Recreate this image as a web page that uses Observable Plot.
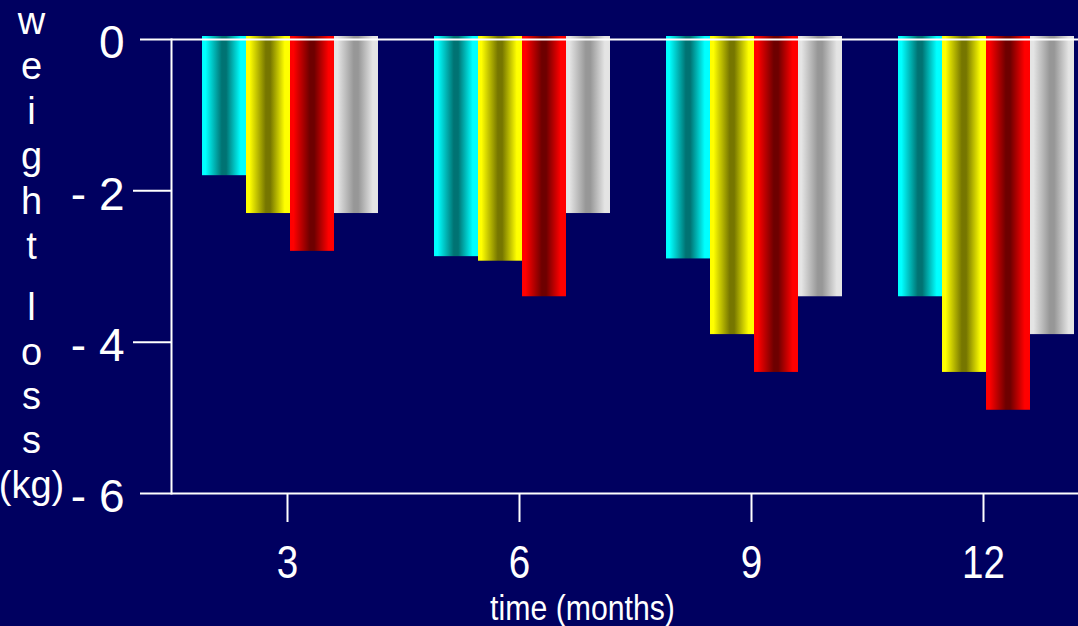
<!DOCTYPE html>
<html>
<head>
<meta charset="utf-8">
<script src="https://cdn.jsdelivr.net/npm/d3@7"></script>
<script src="https://cdn.jsdelivr.net/npm/@observablehq/plot@0.6"></script>
<style>
  html, body { margin: 0; padding: 0; background: #000060; overflow: hidden; }
  #chart svg { display: block; }
</style>
</head>
<body>
<div id="chart"></div>
<script>
// Weight loss (kg) by follow-up time, four groups per time point
const months = [3, 6, 9, 12];
const groups = ["A", "B", "C", "D"];
const groupA = [-1.8, -2.87, -2.9, -3.4];
const groupB = [-2.3, -2.93, -3.9, -4.4];
const groupC = [-2.8, -3.4, -4.4, -4.9];
const groupD = [-2.3, -2.3, -3.4, -3.9];

const yTickValues = [0, -2, -4, -6];
const yTickLabels = ["0", "- 2", "- 4", "- 6"];

// Cylinder-like shading for each group: edge colour and core colour
const edgeColors = ["#00ffff", "#ffff00", "#ff0000", "#e4e4e4"];
const coreColors = ["#007373", "#767600", "#6e0000", "#979797"];

const groupValues = [groupA, groupB, groupC, groupD];
const rows = months.flatMap((m, i) =>
  groups.map((g, j) => ({month: m, group: g, value: groupValues[j][i]}))
);
const gradientIds = groups.map((g) => `shade-${g}`);

const tickLabel = (d) => yTickLabels[yTickValues.indexOf(d)];

const chart = Plot.plot({
  width: 1078,
  height: 626,
  marginLeft: 171,
  marginRight: -21,
  marginTop: 39,
  marginBottom: 133,
  style: {
    background: "#000060",
    color: "white",
    fontFamily: "'Liberation Sans', Arial, sans-serif"
  },
  fx: {domain: months, paddingInner: 0, paddingOuter: 0, axis: null},
  x: {domain: groups, paddingInner: 0, paddingOuter: 0.636, align: 0.55, axis: null},
  y: {domain: [-6, 0], axis: null},
  color: {domain: groups, range: gradientIds.map((id) => `url(#${id})`)},
  marks: [
    Plot.barY(rows, {fx: "month", x: "group", y: "value", fill: "group", insetTop: -3}),
    Plot.ruleY([0, -6], {stroke: "white", strokeWidth: 2}),
    Plot.frame({anchor: "left", facetAnchor: "left", stroke: "white", strokeWidth: 2}),
    // tick lines: inner ticks longer than the end ticks
    Plot.axisY({ticks: [-2, -4], tickSize: 38, tickFormat: () => "", strokeWidth: 2, label: null}),
    Plot.axisY({ticks: [0, -6], tickSize: 31, tickFormat: () => "", strokeWidth: 2, label: null}),
    // tick labels
    Plot.axisY({ticks: yTickValues, tickSize: 0, tickPadding: 47, tickFormat: tickLabel, fontSize: 46, dy: 4, label: null}),
    Plot.axisFx({anchor: "bottom", tickSize: 29, tickPadding: 23, strokeWidth: 2, fontSize: 46, label: null}),
    Plot.text(["time (months)"], {
      facet: "super", frameAnchor: "bottom", lineAnchor: "bottom",
      dx: -53, dy: 126, fontSize: 36, fill: "white", className: "xtitle"
    }),
    Plot.text(["w\ne\ni\ng\nh\nt"], {
      facet: "super", frameAnchor: "top-left", textAnchor: "middle", lineAnchor: "bottom",
      lineHeight: 1.184, dx: -140, dy: 219, fontSize: 38, fill: "white"
    }),
    Plot.text(["l\no\ns\ns\n(kg)"], {
      facet: "super", frameAnchor: "bottom-left", textAnchor: "middle", lineAnchor: "bottom",
      lineHeight: 1.165, dx: -140, dy: 4, fontSize: 38, fill: "white"
    })
  ]
});

// Gradient definitions referenced by the bar fills
const ns = "http://www.w3.org/2000/svg";
const defs = document.createElementNS(ns, "defs");
gradientIds.forEach((id, i) => {
  const lg = document.createElementNS(ns, "linearGradient");
  lg.setAttribute("id", id);
  lg.setAttribute("x1", "0");
  lg.setAttribute("x2", "1");
  lg.setAttribute("y1", "0");
  lg.setAttribute("y2", "0");
  [[0, edgeColors[i]], [0.08, edgeColors[i]], [0.45, coreColors[i]], [0.55, coreColors[i]], [0.88, edgeColors[i]], [1, edgeColors[i]]]
    .forEach(([offset, color]) => {
      const stop = document.createElementNS(ns, "stop");
      stop.setAttribute("offset", offset);
      stop.setAttribute("stop-color", color);
      lg.appendChild(stop);
    });
  defs.appendChild(lg);
});
chart.insertBefore(defs, chart.firstChild);

// Narrow lettering for the month labels and the horizontal title
chart.querySelectorAll('g[aria-label="fx-axis tick label"] text, g.xtitle text').forEach((t) => {
  t.setAttribute("transform", `${t.getAttribute("transform") || ""} scale(0.84,1)`);
});

document.getElementById("chart").appendChild(chart);
</script>
</body>
</html>
